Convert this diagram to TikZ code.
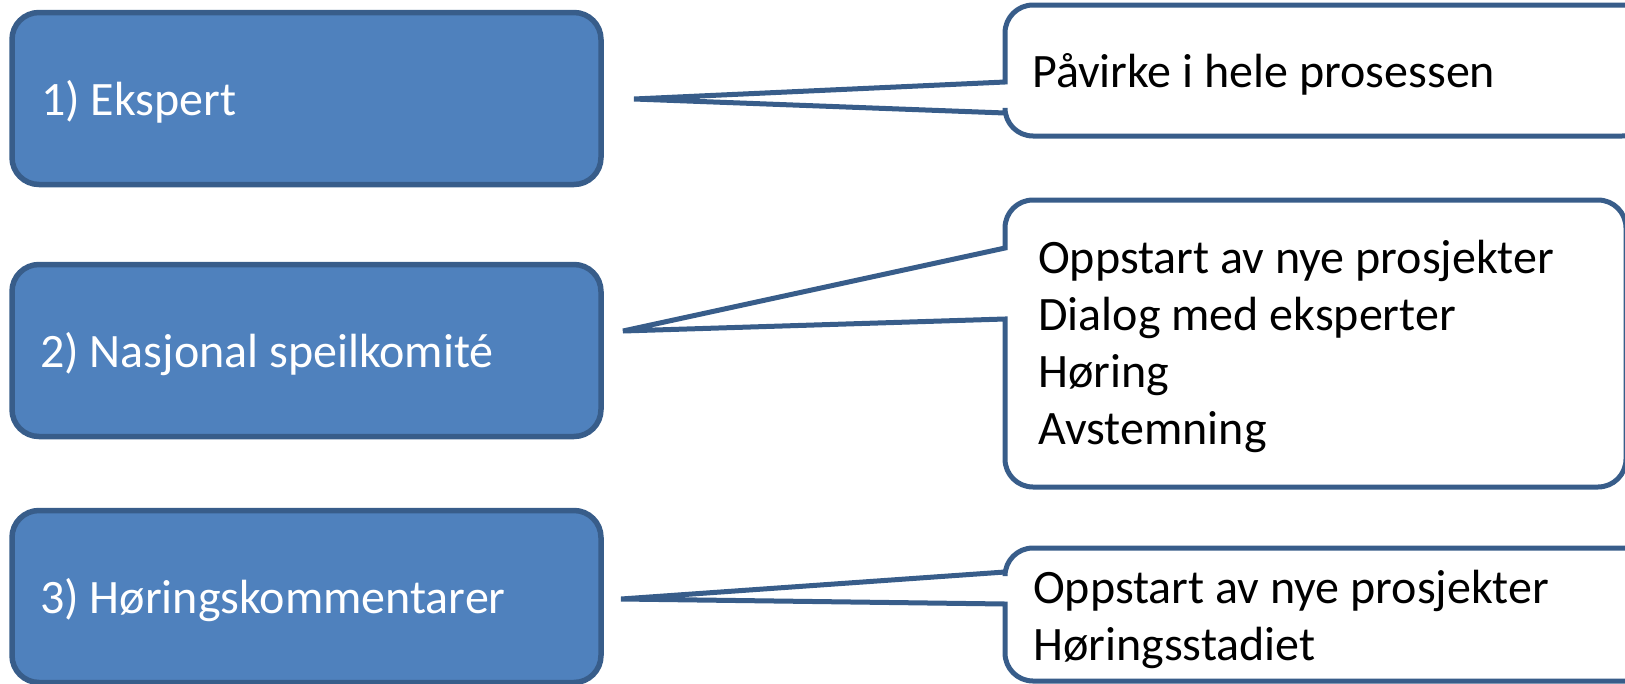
\documentclass[tikz,border=0pt]{standalone}
\usepackage{fontspec}
\setmainfont{Carlito}
\definecolor{boxfill}{HTML}{4F81BD}
\definecolor{boxline}{HTML}{385D8A}

% speech balloon: left, top, right, bottom, tail base (upper, lower), tip coordinate
\newcommand\balloon[7]{%
  \draw[calloutline] (#7) -- (#1,#5) -- (#1,{#2+28})
    .. controls (#1,{#2+12.5}) and ({#1+12.5},#2) .. ({#1+28},#2)
    -- ({#3-28},#2)
    .. controls ({#3-12.5},#2) and (#3,{#2+12.5}) .. (#3,{#2+28})
    -- (#3,{#4-28})
    .. controls (#3,{#4-12.5}) and ({#3-12.5},#4) .. ({#3-28},#4)
    -- ({#1+28},#4)
    .. controls ({#1+12.5},#4) and (#1,{#4-12.5}) .. (#1,{#4-28})
    -- (#1,#6) -- cycle;}

\begin{document}
\begin{tikzpicture}[x=1pt,y=-1pt,
  rolebox/.style={draw=boxline, fill=boxfill, line width=5.5pt,
    rounded corners=27pt, minimum width=589pt, minimum height=172pt,
    inner sep=0pt},
  roletext/.style={anchor=base west, inner sep=0pt, text=white,
    font=\fontsize{48}{57}\selectfont},
  notetext/.style={anchor=base west, inner sep=0pt, text=black,
    align=left, font=\fontsize{48}{57}\selectfont},
  calloutline/.style={draw=boxline, fill=white, line width=5pt,
    line join=miter}]
\useasboundingbox (0,0) rectangle (1625,683);

% role boxes
\node[rolebox] (b1) at (306.5,98.5) {};
\node[rolebox] (b2) at (306.5,350.5) {};
\node[rolebox] (b3) at (306.5,596.5) {};
\node[roletext] (t1) at (41,115) {1) Ekspert};
\node[roletext] (t2) at (40,367) {2) Nasjonal speilkomité};
\node[roletext] (t3) at (40,613) {3) Høringskommentarer};

% balloon tips
\coordinate (p1) at (634,99);
\coordinate (p2) at (623,331);
\coordinate (p3) at (621,599);

% balloons
\balloon{1005}{5}{1650}{136}{82}{113}{p1}
\balloon{1005}{200}{1626}{487}{248}{319}{p2}
\balloon{1005}{548}{1660}{681}{572}{604}{p3}

% balloon texts (base anchor sits on the last line)
\node[notetext] (n1) at (1032,87) {Påvirke i hele prosessen};
\node[notetext] (n2) at (1038,444) {Oppstart av nye prosjekter\\Dialog med eksperter\\Høring\\Avstemning};
\node[notetext] (n3) at (1033,660) {Oppstart av nye prosjekter\\Høringsstadiet};
\end{tikzpicture}
\end{document}
